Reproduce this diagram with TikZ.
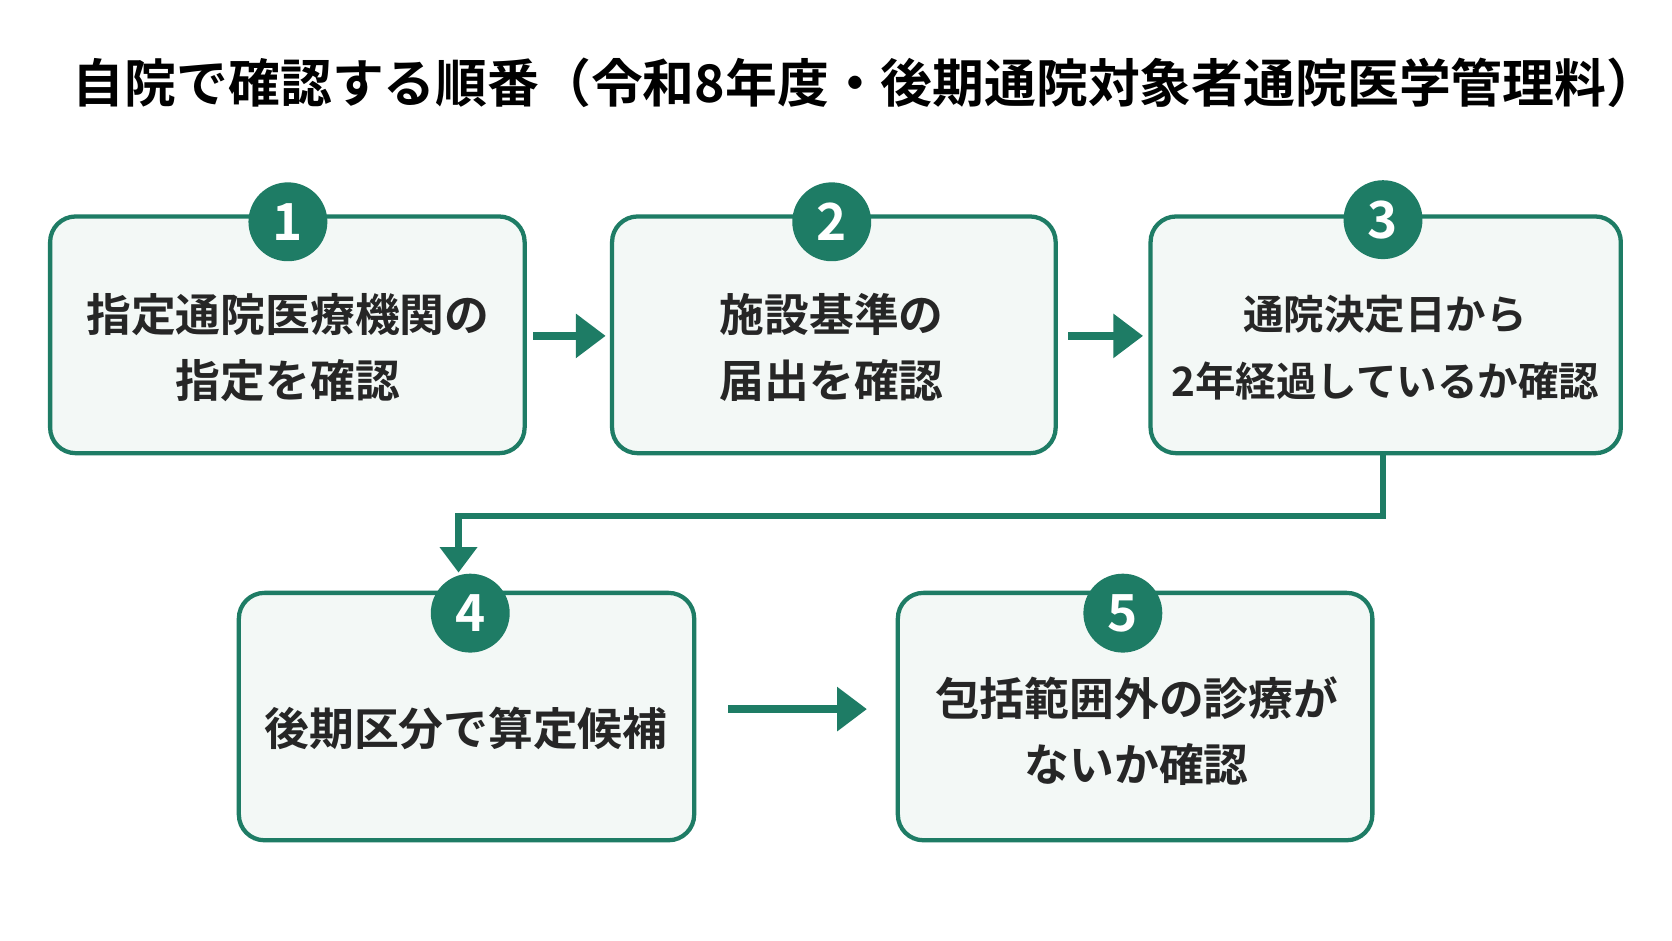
\documentclass[tikz,border=0pt]{standalone}
\usepackage{fontspec}
\setmainfont{Noto Sans CJK JP}[BoldFont={* Bold}]
\usetikzlibrary{arrows.meta}
\definecolor{grn}{HTML}{1E7C65}
\definecolor{boxfill}{HTML}{F3F8F6}
\begin{document}
\begin{tikzpicture}[x=0.5pt,y=-0.5pt,
 box/.style={draw=grn,line width=2pt,fill=boxfill,rounded corners=12pt},
 num/.style={circle,fill=grn,minimum size=37pt,inner sep=0pt,text=white,font=\fontsize{24}{24}\selectfont\bfseries},
 txt/.style={align=center,font=\fontsize{21}{31}\selectfont\bfseries,text=black!85},
 arr/.style={draw=grn,line width=4pt,-{Triangle[length=14pt,width=20pt]}}]
\useasboundingbox (0,0) rectangle (1568,882);
\fill[white] (0,0) rectangle (1568,882);
\node[anchor=west,font=\fontsize{24.3}{25}\selectfont\bfseries,inner sep=0pt] (title) at (68,78) {自院で確認する順番（令和8年度・後期通院対象者通院医学管理料）};
\draw[box] (47,203) rectangle (492,425);
\draw[box] (574,203) rectangle (990,425);
\draw[box] (1079,203) rectangle (1520,425);
\draw[box] (224,556) rectangle (651,788);
\draw[box] (842,556) rectangle (1287,788);
\node[txt] (t1) at (270,326) {指定通院医療機関の\\指定を確認};
\node[txt] (t2) at (780,326) {施設基準の\\届出を確認};
\node[txt,font=\fontsize{19}{31}\selectfont\bfseries] (t3) at (1299,326) {通院決定日から\\2年経過しているか確認};
\node[txt] (t4) at (437,683) {後期区分で算定候補};
\node[txt] (t5) at (1066,686) {包括範囲外の診療が\\ないか確認};
\node[num] (n1) at (270,208) {1};
\node[num] (n2) at (780,208) {2};
\node[num] (n3) at (1297,206) {3};
\node[num] (n4) at (441,575) {4};
\node[num] (n5) at (1053,575) {5};
\coordinate (a1s) at (500,315); \coordinate (a1e) at (568,315);
\coordinate (a2s) at (1002,315); \coordinate (a2e) at (1072,315);
\coordinate (a3s) at (683,665); \coordinate (a3e) at (813,665);
\coordinate (b3) at (1297,427); \coordinate (c4) at (430,537);
\draw[arr] (a1s) -- (a1e);
\draw[arr] (a2s) -- (a2e);
\draw[arr] (a3s) -- (a3e);
\draw[draw=grn,line width=3pt,-{Triangle[length=12pt,width=17pt]}] (b3) |- (785,484) -| (c4);
\end{tikzpicture}
\end{document}
